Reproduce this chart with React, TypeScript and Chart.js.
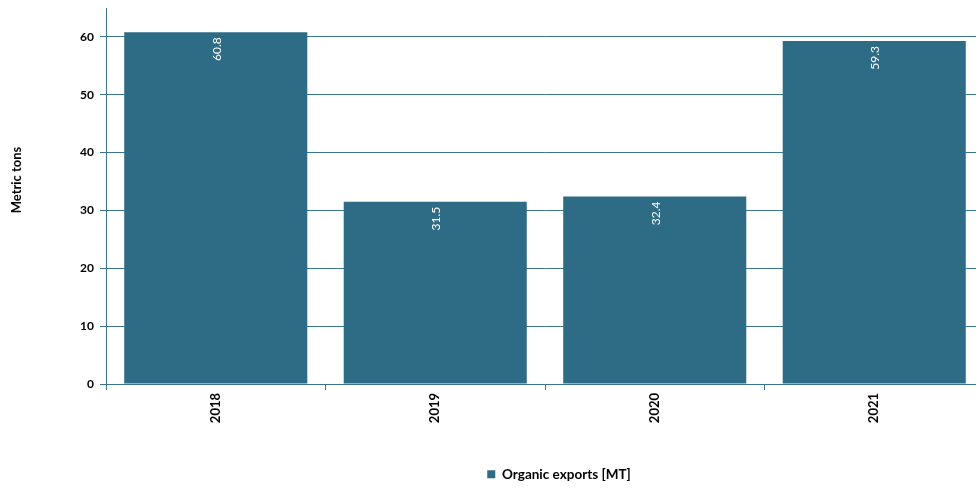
import React, { useEffect, useRef } from 'react';
import { Chart, registerables } from 'chart.js';

Chart.register(...registerables);

const categories = ['2018', '2019', '2020', '2021'];
const values = [60.8, 31.5, 32.4, 59.3];
const seriesName = 'Organic exports [MT]';
const yTickValues = [0, 10, 20, 30, 40, 50, 60];
const yTitle = 'Metric tons';

const BAR = '#2e6c85';
const LINE = '#3a7591';
const FONT = 'Lato, "Open Sans", sans-serif';

const barLabels = {
  id: 'barLabels',
  afterDatasetsDraw(chart: any) {
    const ctx = chart.ctx;
    const meta = chart.getDatasetMeta(0);
    ctx.save();
    ctx.fillStyle = '#ffffff';
    ctx.font = `12px ${FONT}`;
    meta.data.forEach((bar: any, i: number) => {
      ctx.save();
      ctx.translate(bar.x + 1, bar.y + 5);
      ctx.rotate(-Math.PI / 2);
      ctx.textAlign = 'right';
      ctx.textBaseline = 'middle';
      ctx.fillText(values[i].toFixed(1), 0, 0);
      ctx.restore();
    });
    ctx.restore();
  },
};

const yTitlePlugin = {
  id: 'yTitlePlugin',
  afterDraw(chart: any) {
    const ctx = chart.ctx;
    const area = chart.chartArea;
    ctx.save();
    ctx.fillStyle = '#000';
    ctx.font = `bold 13px ${FONT}`;
    ctx.translate(17, (area.top + area.bottom) / 2 - 16);
    ctx.rotate(-Math.PI / 2);
    ctx.textAlign = 'center';
    ctx.textBaseline = 'middle';
    ctx.fillText(yTitle, 0, 0);
    ctx.restore();
  },
};

const legendShift = {
  id: 'legendShift',
  afterLayout(chart: any) {
    if (chart.legend) {
      chart.legend.left += 67;
      chart.legend.right += 67;
      chart.legend.top += 2;
      chart.legend.bottom += 2;
    }
  },
};

export default function App() {
  const ref = useRef<HTMLCanvasElement>(null);

  useEffect(() => {
    if (!ref.current) return;
    const chart = new Chart(ref.current, {
      type: 'bar',
      data: {
        labels: categories,
        datasets: [
          {
            label: seriesName,
            data: values,
            backgroundColor: BAR,
            borderWidth: 0,
            barPercentage: 0.834,
            categoryPercentage: 1,
          },
        ],
      },
      plugins: [barLabels, yTitlePlugin, legendShift],
      options: {
        responsive: false,
        animation: false,
        layout: { padding: { top: 8, right: 16, left: 0, bottom: 0 } },
        plugins: {
          tooltip: { enabled: false },
          legend: {
            position: 'bottom',
            labels: {
              boxWidth: 8,
              boxHeight: 8,
              color: '#000',
              font: { family: FONT, size: 13.5, weight: 'bold' },
              padding: 10,
            },
          },
        },
        scales: {
          x: {
            grid: {
              display: true,
              drawOnChartArea: false,
              drawTicks: true,
              tickLength: 6,
              color: LINE,
              offset: true,
            },
            border: { display: true, color: LINE },
            ticks: {
              minRotation: 90,
              maxRotation: 90,
              color: '#000',
              padding: 3,
              font: { family: FONT, size: 13, weight: 'bold' },
            },
            afterFit(scale: any) {
              const legendH = scale.chart.legend ? scale.chart.legend.height : 0;
              scale.height = scale.chart.height - legendH - 384;
            },
          },
          y: {
            min: 0,
            max: 65,
            grid: { color: LINE, tickLength: 6, drawTicks: true },
            border: { display: true, color: LINE },
            ticks: {
              stepSize: 10,
              color: '#000',
              padding: 6,
              font: { family: FONT, size: 12, weight: 'bold' },
            },
            afterBuildTicks(scale: any) {
              scale.ticks = yTickValues.map((v) => ({ value: v }));
            },
            afterFit(scale: any) {
              scale.width = 106;
              scale.paddingTop = 0;
              scale.paddingBottom = 0;
            },
          },
        },
      },
    } as any);
    return () => chart.destroy();
  }, []);

  return (
    <div style={{ position: 'fixed', left: 0, top: 0, width: 976, height: 489, overflow: 'hidden' }}>
      <canvas ref={ref} width={1000} height={489} style={{ display: 'block' }} />
    </div>
  );
}
